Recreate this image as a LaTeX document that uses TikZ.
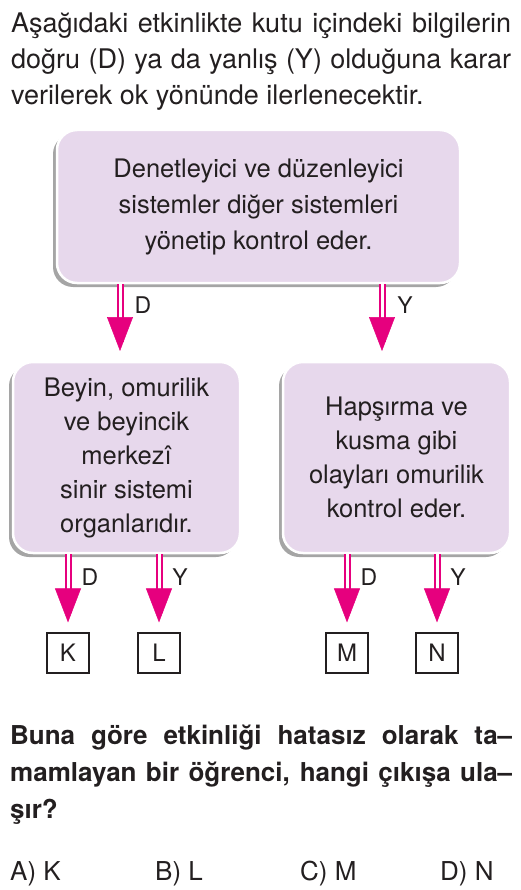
\documentclass[tikz,border=0pt]{standalone}
\usepackage{fontspec}
\setmainfont{TeX Gyre Heros}
\usetikzlibrary{arrows.meta,positioning,shadows,decorations.markings}
\definecolor{okpembe}{RGB}{230,0,126}
\definecolor{kutumor}{RGB}{231,216,236}
\definecolor{golge}{RGB}{165,165,165}
\definecolor{yazi}{RGB}{35,31,32}

\begin{document}
\begin{tikzpicture}[x=1pt,y=1pt,text=yazi,font=\fontsize{27}{36}\selectfont]
\tikzstyle{kutu}=[draw=white,line width=2.5pt,fill=kutumor,rounded corners=20pt,align=center,drop shadow={shadow xshift=-4pt,shadow yshift=-4pt,fill=golge,opacity=1},font=\fontsize{25.5}{34}\selectfont]
\tikzstyle{cikis}=[draw=yazi,line width=1.2pt,minimum width=42pt,minimum height=40pt,inner sep=0pt,font=\fontsize{24}{24}\selectfont]
\tikzstyle{ok}=[draw=okpembe,line width=2pt,double=white,double distance=3pt,shorten >=9pt,decoration={markings,mark=at position 1 with {\arrow[okpembe]{Triangle[width=26pt,length=34pt,line width=0.5pt]}}},postaction=decorate]
\tikzstyle{etiket}=[font=\fontsize{23}{23}\selectfont,inner sep=0pt]
\useasboundingbox (0,0) rectangle (520,-890);
\node[anchor=north west,text width=500pt,align=justify,inner sep=0pt] (giris) at (11,-13) {Aşağıdaki etkinlikte kutu içindeki bilgilerin\linebreak doğru (D) ya da yanlış (Y) olduğuna karar\linebreak verilerek ok yönünde ilerlenecektir.};
\node[kutu,minimum width=403pt,minimum height=153pt] (ust) at (258.5,-206.5) {Denetleyici ve düzenleyici\\[2pt] sistemler diğer sistemleri\\[2pt] yönetip kontrol eder.};
\node[kutu,minimum width=227pt,minimum height=191pt] (beyin) at (126.5,-457.5) {Beyin, omurilik\\ ve beyincik\\ merkezî\\ sinir sistemi\\ organlarıdır.};
\node[kutu,minimum width=227pt,minimum height=191pt] (hapsirma) at (396.5,-457.5) {Hapşırma ve\\ kusma gibi\\ olayları omurilik\\ kontrol eder.};
\node[cikis] (k) at (68,-653) {K}; \node[cikis] (l) at (159,-653) {L};
\node[cikis] (m) at (347,-653) {M}; \node[cikis] (n) at (437,-653) {N};
\coordinate (d1) at (120,-351); \coordinate (y1) at (382,-351);
\draw[ok] (ust.south -| d1) -- (d1); \draw[ok] (ust.south -| y1) -- (y1);
\draw[ok] (beyin.south -| k) -- ([yshift=10pt]k.north); \draw[ok] (beyin.south -| l) -- ([yshift=10pt]l.north);
\draw[ok] (hapsirma.south -| m) -- ([yshift=10pt]m.north); \draw[ok] (hapsirma.south -| n) -- ([yshift=10pt]n.north);
\node[etiket] (ed1) at (143,-305) {D}; \node[etiket] (ey1) at (405,-305) {Y};
\node[etiket] (ed2) at (90,-577) {D}; \node[etiket] (ey2) at (180,-577) {Y};
\node[etiket] (ed3) at (369,-577) {D}; \node[etiket] (ey3) at (458,-577) {Y};
\node[anchor=north west,text width=502pt,align=justify,inner sep=0pt,font=\bfseries\fontsize{26}{37}\selectfont] (soru) at (10,-724.5) {Buna göre etkinliği hatasız olarak ta–\linebreak mamlayan bir öğrenci, hangi çıkışa ula–\linebreak şır?};
\node[anchor=base west,inner sep=0pt,font=\fontsize{26}{26}\selectfont] (sa) at (10,-880) {A) K}; \node[anchor=base west,inner sep=0pt,font=\fontsize{26}{26}\selectfont] (sb) at (155,-880) {B) L};
\node[anchor=base west,inner sep=0pt,font=\fontsize{26}{26}\selectfont] (sc) at (300,-880) {C) M}; \node[anchor=base west,inner sep=0pt,font=\fontsize{26}{26}\selectfont] (sd) at (440,-880) {D) N};
\end{tikzpicture}
\end{document}
